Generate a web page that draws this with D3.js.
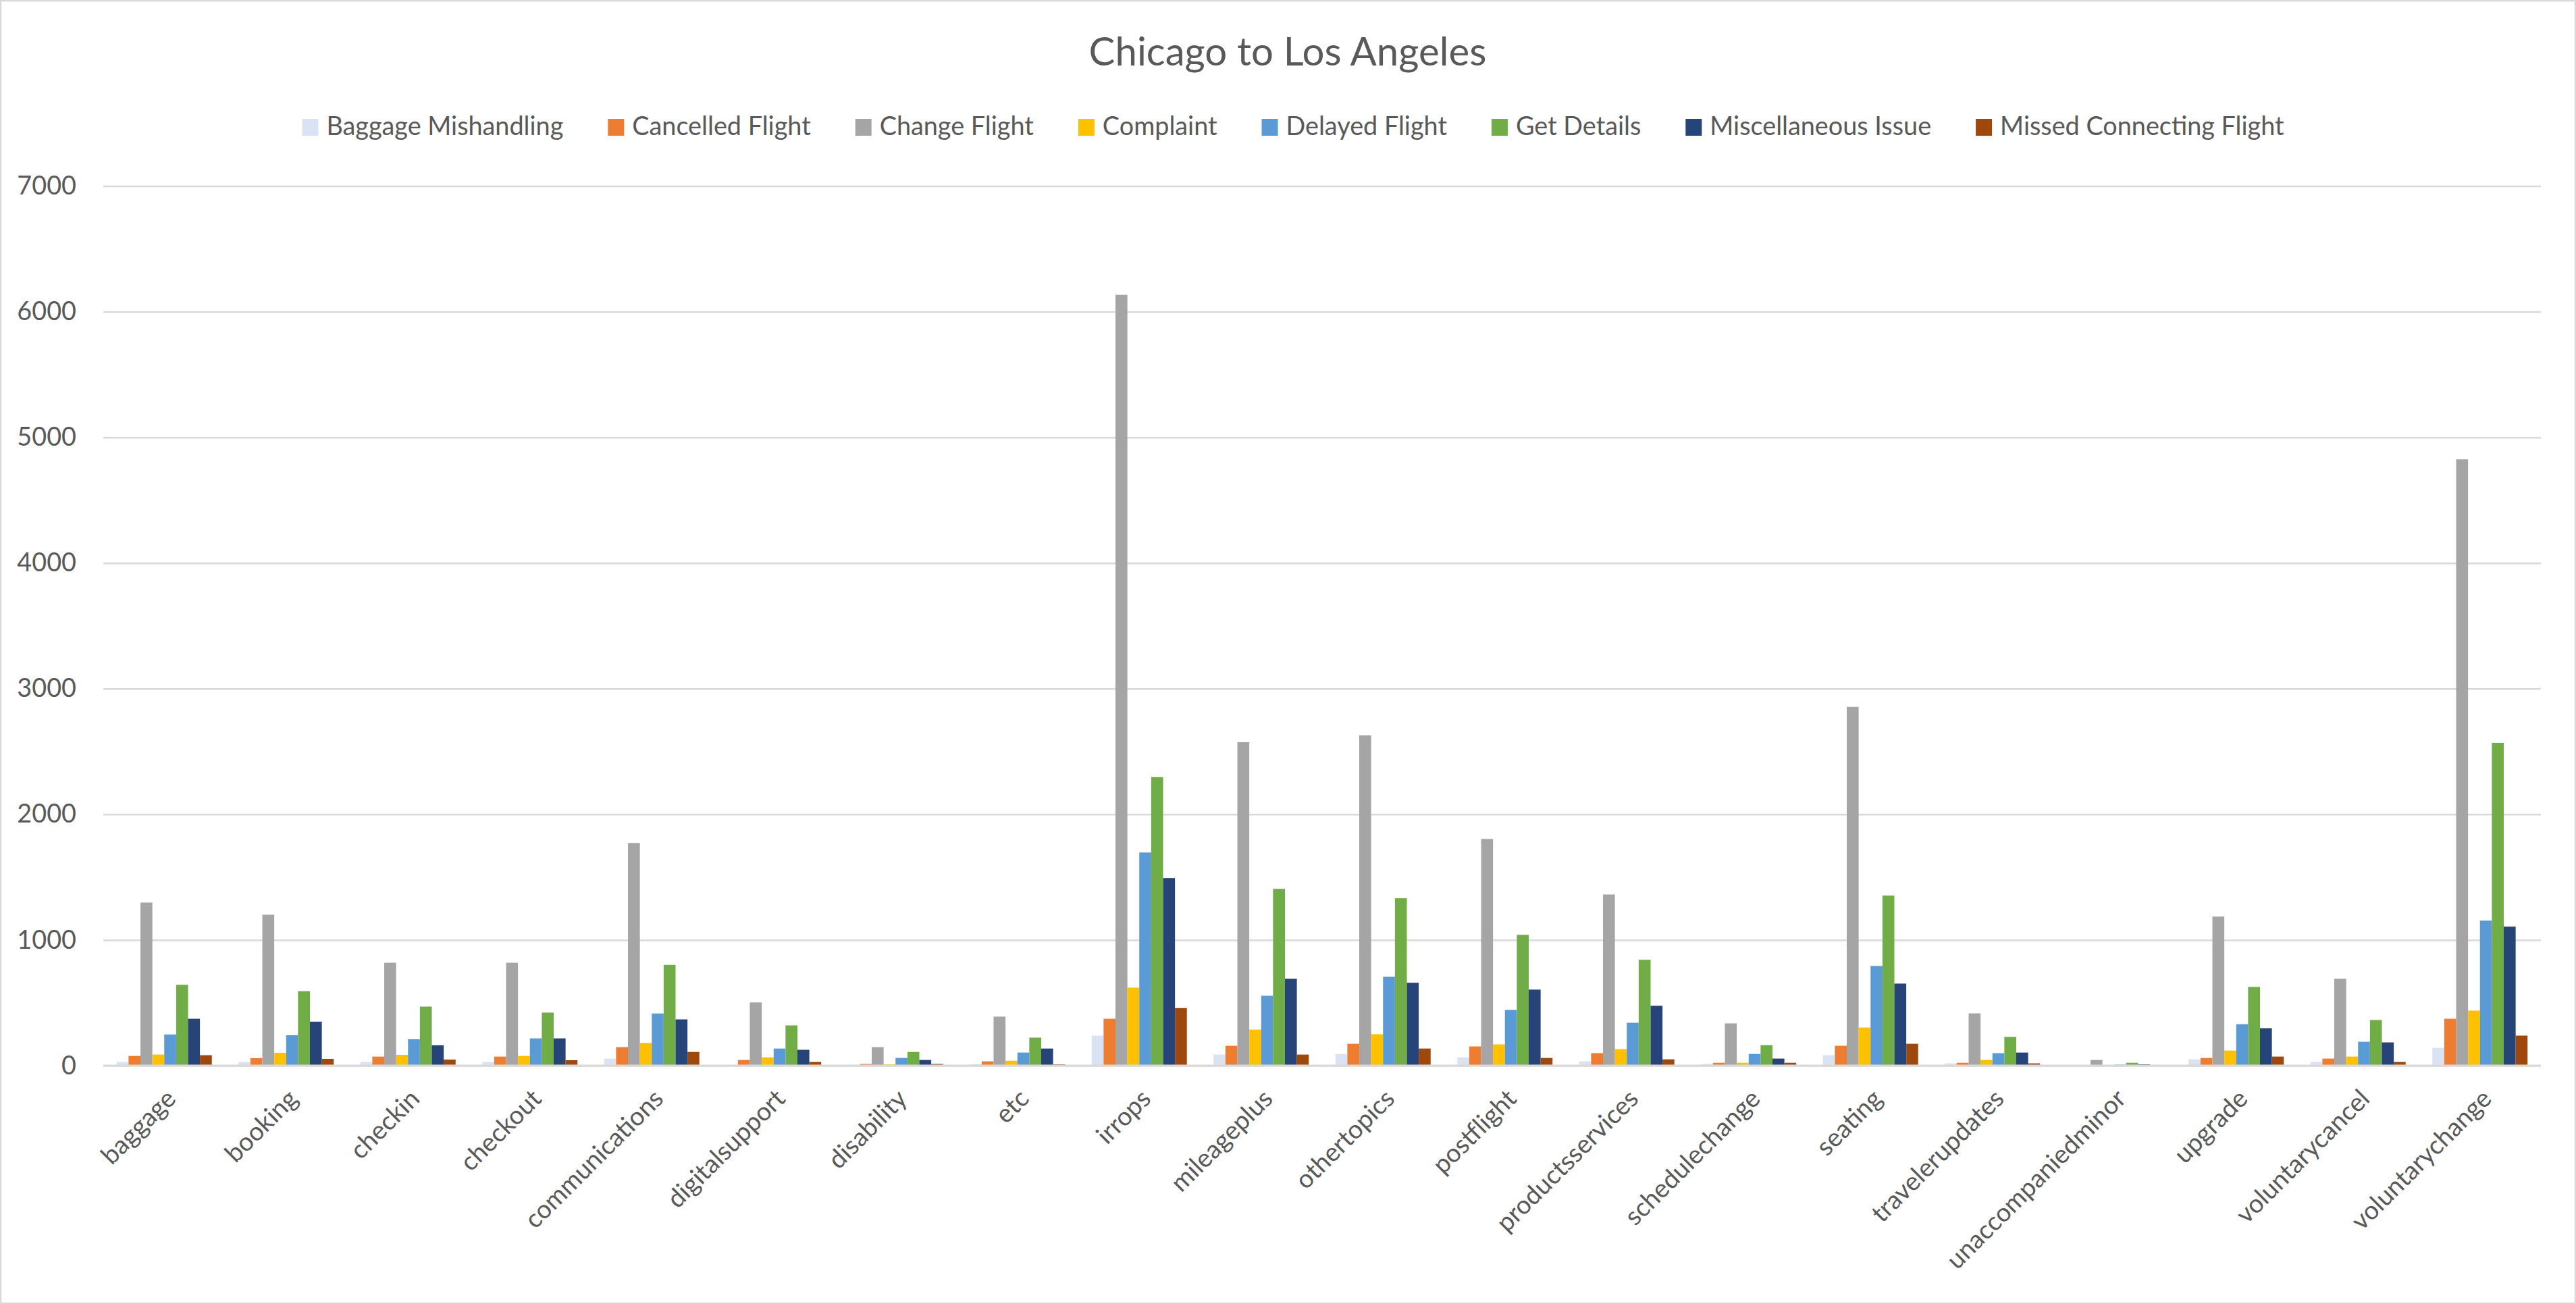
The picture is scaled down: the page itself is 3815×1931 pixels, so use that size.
<!DOCTYPE html>
<html>
<head>
<meta charset="utf-8">
<script src="https://cdn.jsdelivr.net/npm/d3@7"></script>
<style>
  html, body { margin: 0; padding: 0; background: #fff; }
  svg { display: block; }
  text { font-family: "Lato", "Liberation Sans", sans-serif; fill: #595959; }
</style>
</head>
<body>
<div id="chart"></div>
<script>
// values
const categories = ["baggage", "booking", "checkin", "checkout", "communications", "digitalsupport",
  "disability", "etc", "irrops", "mileageplus", "othertopics", "postflight", "productsservices",
  "schedulechange", "seating", "travelerupdates", "unaccompaniedminor", "upgrade",
  "voluntarycancel", "voluntarychange"];

const seriesNames = ["Baggage Mishandling", "Cancelled Flight", "Change Flight", "Complaint",
  "Delayed Flight", "Get Details", "Miscellaneous Issue", "Missed Connecting Flight"];

const baggageMishandling = [29, 29, 29, 29, 56, 4, 2, 10, 239, 88, 93, 66, 34, 13, 83, 18, 1, 50, 29, 142];
const cancelledFlight = [77, 59, 72, 72, 147, 45, 13, 34, 373, 158, 174, 153, 99, 23, 158, 23, 1, 61, 56, 373];
const changeFlight = [1298, 1201, 819, 819, 1772, 503, 147, 390, 6134, 2574, 2628, 1804, 1362, 336, 2855, 416, 45, 1186, 691, 4825];
const complaint = [88, 102, 86, 77, 180, 66, 10, 39, 621, 287, 250, 169, 131, 23, 303, 45, 1, 120, 72, 438];
const delayedFlight = [248, 242, 210, 217, 415, 136, 61, 104, 1696, 556, 707, 443, 341, 93, 793, 99, 8, 330, 190, 1154];
const getDetails = [643, 592, 470, 422, 802, 320, 109, 223, 2296, 1407, 1332, 1041, 842, 163, 1353, 228, 23, 626, 363, 2569];
const miscellaneousIssue = [373, 350, 162, 217, 368, 126, 45, 136, 1493, 691, 659, 605, 476, 56, 653, 104, 10, 298, 185, 1106];
const missedConnectingFlight = [83, 54, 48, 43, 109, 29, 13, 10, 458, 88, 136, 61, 50, 23, 174, 18, 1, 72, 29, 239];

const yTicks = [0, 1000, 2000, 3000, 4000, 5000, 6000, 7000];
const colors = ["#DAE3F3", "#ED7D31", "#A5A5A5", "#FFC000", "#5B9BD5", "#70AD47", "#264478", "#9E480E"];

const allSeries = [baggageMishandling, cancelledFlight, changeFlight, complaint,
  delayedFlight, getDetails, miscellaneousIssue, missedConnectingFlight];

// table built from the arrays above
const table = categories.map((c, i) => {
  let row = {category: c};
  seriesNames.forEach((s, j) => { row[s] = allSeries[j][i]; });
  return row;
});

const W = 3815, H = 1931;
const margin = {top: 275.5, right: 52, bottom: 353, left: 153};

const svg = d3.select("#chart").append("svg")
  .attr("width", W)
  .attr("height", H);

// chart border
svg.append("rect")
  .attr("x", 1).attr("y", 1)
  .attr("width", W - 2).attr("height", H - 2)
  .attr("fill", "#fff")
  .attr("stroke", "#d9d9d9")
  .attr("stroke-width", 2.5);

// pick font size so text width matches the reference
function fitSize(str, targetWidth) {
  let t = svg.append("text").style("font-size", "100px").text(str);
  let w = t.node().getComputedTextLength();
  t.remove();
  return 100 * targetWidth / w;
}
const titleSize = fitSize("Chicago to Los Angeles", 589);
const labelSize = fitSize("Baggage Mishandling", 351);

const x0 = d3.scaleBand()
  .domain(categories)
  .range([margin.left, W - margin.right])
  .paddingInner(0.219)
  .paddingOuter(0.1095);

const x1 = d3.scaleBand()
  .domain(seriesNames)
  .range([0, x0.bandwidth()]);

const y = d3.scaleLinear()
  .domain([0, 7000])
  .range([H - margin.bottom, margin.top]);

const color = d3.scaleOrdinal().domain(seriesNames).range(colors);

// gridlines
svg.append("g")
  .attr("class", "grid")
  .attr("transform", `translate(${margin.left},0)`)
  .call(d3.axisLeft(y).tickValues(yTicks).tickSize(-(W - margin.left - margin.right)).tickFormat(""))
  .call(g => g.select(".domain").remove())
  .call(g => g.selectAll("line").attr("stroke", "#d9d9d9").attr("stroke-width", 2.5));

// y tick labels
svg.append("g")
  .attr("transform", `translate(113,0)`)
  .call(d3.axisLeft(y).tickValues(yTicks).tickSize(0).tickPadding(0).tickFormat(d3.format("d")))
  .call(g => g.select(".domain").remove())
  .call(g => g.selectAll("text")
    .style("font-size", labelSize + "px")
    .style("font-family", null)
    .attr("fill", "#595959"));

// bars
svg.append("g")
  .selectAll("g")
  .data(table)
  .join("g")
    .attr("transform", d => `translate(${x0(d.category)},0)`)
  .selectAll("rect")
  .data(d => seriesNames.map(s => ({key: s, value: d[s]})))
  .join("rect")
    .attr("x", d => x1(d.key))
    .attr("width", x1.bandwidth())
    .attr("y", d => y(d.value))
    .attr("height", d => y(0) - y(d.value))
    .attr("fill", d => color(d.key));

// x axis line
svg.append("line")
  .attr("x1", margin.left).attr("x2", W - margin.right)
  .attr("y1", y(0)).attr("y2", y(0))
  .attr("stroke", "#d9d9d9")
  .attr("stroke-width", 3);

// category labels, rotated
svg.append("g")
  .selectAll("text")
  .data(categories)
  .join("text")
    .attr("text-anchor", "end")
    .attr("transform", d => `translate(${x0(d) + x0.bandwidth() / 2 + 10},${y(0) + 42}) rotate(-45)`)
    .attr("dy", "0.35em")
    .style("font-size", labelSize + "px")
    .text(d => d);

// title
svg.append("text")
  .attr("x", 1907)
  .attr("y", 97)
  .attr("text-anchor", "middle")
  .style("font-size", titleSize + "px")
  .text("Chicago to Los Angeles");

// legend
const legend = svg.append("g");
let lx = 0;
const sw = 24, swGap = 12, itemGap = 66;
seriesNames.forEach((s, i) => {
  let item = legend.append("g").attr("transform", `translate(${lx},0)`);
  item.append("rect")
    .attr("x", 0).attr("y", 176)
    .attr("width", sw).attr("height", sw + 1)
    .attr("fill", color(s));
  let t = item.append("text")
    .attr("x", sw + swGap)
    .attr("y", 200)
    .style("font-size", labelSize + "px")
    .text(s);
  lx += sw + swGap + t.node().getComputedTextLength() + itemGap;
});
lx -= itemGap;
legend.attr("transform", `translate(${1915 - lx / 2},0)`);
</script>
</body>
</html>
